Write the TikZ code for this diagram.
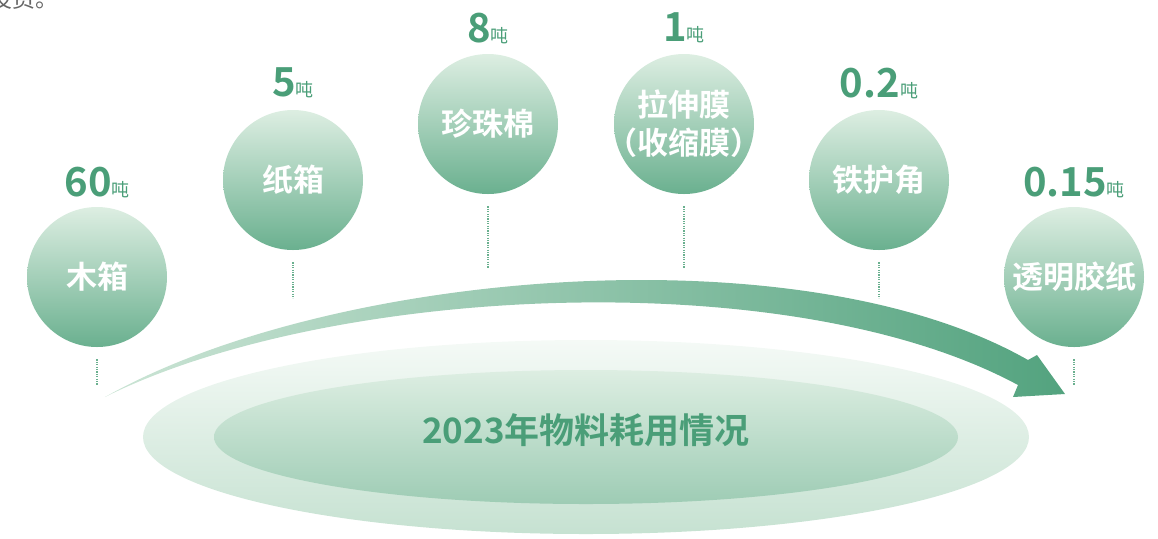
\documentclass[tikz,border=0pt]{standalone}
\usepackage{fontspec}
\setmainfont{Noto Sans CJK SC}[BoldFont={Noto Sans CJK SC Bold}]
\definecolor{vertfonce}{HTML}{4A9E78}
\definecolor{vertboule}{HTML}{6AB08F}
\definecolor{vertclair}{HTML}{DDEEE2}
\definecolor{gristexte}{HTML}{666666}
\tikzset{
  boule/.style={circle,minimum size=70pt,inner sep=0pt,top color=vertclair,
    bottom color=vertboule,text=white,font=\fontsize{15.5pt}{19pt}\selectfont\bfseries,
    align=center},
  tonnage/.style={text=vertfonce,inner sep=0pt},
  pointille/.style={draw=vertboule,line width=1pt,dash pattern=on 0.6pt off 0.6pt}
}
\newcommand{\tonnes}[1]{{\fontsize{20pt}{20pt}\selectfont\bfseries #1}{\fontsize{9pt}{9pt}\selectfont 吨}}
\begin{document}
\begin{tikzpicture}[x=0.5pt,y=-0.5pt]
   \useasboundingbox (0,0) rectangle (1158,538);
   % texte coupe en haut
   \node[anchor=base west,text=gristexte,inner sep=0pt,font=\fontsize{11.5pt}{12pt}\selectfont] (haut) at (-11,7) {投资。};
   % ellipses
   \shade[top color=white!70!vertclair,bottom color=vertclair!80!vertboule] (586,437) ellipse (443 and 97);
   \shade[top color=vertclair,bottom color=vertclair!45!vertboule] (586,437) ellipse (372 and 67);
   \node[text=vertfonce,font=\fontsize{17.5pt}{17.5pt}\selectfont\bfseries] (titre) at (586,430) {2023年物料耗用情况};
   % fleche
   \shade[left color=vertclair!85!vertboule,right color=vertfonce!95!white]
     (105,397) .. controls (330,270) and (800,230) .. (1028,360)
     -- (1037,355) -- (1065,394) -- (1013,397) -- (1018,385)
     .. controls (790,262) and (330,285) .. (105,397) -- cycle;
   % boules
   \node[boule] (c1) at (97,277) {木箱};
   \node[boule] (c2) at (293,180) {纸箱};
   \node[boule] (c3) at (488,124) {珍珠棉};
   \node[boule] (c4) at (684,124) {\makebox[0pt]{拉伸膜}\\\makebox[0pt]{（收缩膜）}};
   \node[boule] (c5) at (879,180) {铁护角};
   \node[boule] (c6) at (1074,277) {透明胶纸};
   % tonnages
   \node[tonnage] (v1) at (97,182) {\tonnes{60}};
   \node[tonnage] (v2) at (293,83) {\tonnes{5}};
   \node[tonnage] (v3) at (488,28) {\tonnes{8}};
   \node[tonnage] (v4) at (684,28) {\tonnes{1}};
   \node[tonnage] (v5) at (879,83) {\tonnes{0.2}};
   \node[tonnage] (v6) at (1074,182) {\tonnes{0.15}};
   % pointilles
   \draw[pointille] (c1.south) ++(0,12) -- ++(0,26);
   \draw[pointille] (c2.south) ++(0,12) -- ++(0,36);
   \draw[pointille] (c3.south) ++(0,12) -- ++(0,62);
   \draw[pointille] (c4.south) ++(0,12) -- ++(0,62);
   \draw[pointille] (c5.south) ++(0,12) -- ++(0,36);
   \draw[pointille] (c6.south) ++(0,12) -- ++(0,26);
\end{tikzpicture}
\end{document}
